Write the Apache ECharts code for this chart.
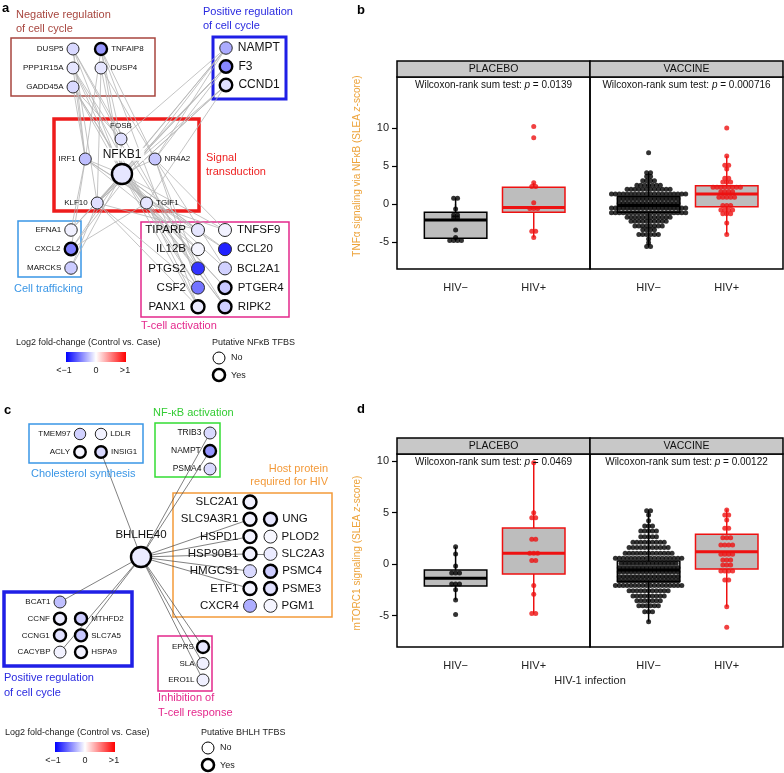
<!DOCTYPE html>
<html><head><meta charset="utf-8">
<script src="https://cdn.jsdelivr.net/npm/echarts@6/dist/echarts.min.js"></script>
<style>html,body{margin:0;padding:0;background:#fff}#c{width:784px;height:773px}</style>
</head><body><div id="c"></div>
<script>
const FONT = '"Liberation Sans", Arial, Helvetica, sans-serif';

// ===================== Box-plot panels (b, d) data =====================
const infectionGroups = ['HIV−', 'HIV+'];
const facetNames = ['PLACEBO', 'VACCINE'];
const yTicks = [-5, 0, 5, 10];
const pValuesB = ['0.0139', '0.000716'];
const pValuesD = ['0.0469', '0.00122'];
const yTitleB = 'TNFα signaling via NFκB (SLEA {i|z}-score)';
const yTitleD = 'mTORC1 signaling (SLEA {i|z}-score)';
const xTitleD = 'HIV-1 infection';

// box stats: [lower whisker, q1, median, q3, upper whisker]
const boxB_placeboNeg = [-4.8, -4.5, -2.1, -1.1, 0.75];
const boxB_placeboPos = [-4.4, -1.1, -0.45, 2.2, 2.8];
const boxB_vaccineNeg = [-5.6, -1.1, -0.2, 1.0, 4.1];
const boxB_vaccinePos = [-4.0, -0.35, 1.3, 2.4, 6.3];
const boxD_placeboNeg = [-3.5, -2.14, -1.39, -0.58, 1.68];
const boxD_placeboPos = [-4.8, -0.97, 1.04, 3.5, 9.83];
const boxD_vaccineNeg = [-5.6, -1.7, -0.58, 0.29, 5.2];
const boxD_vaccinePos = [-4.15, -0.49, 1.2, 2.88, 5.3];

// dot rows: [z-score, number of subjects at that level]
const dotsB_placeboNeg = [[0.75,2],[-0.66,1],[-1.45,2],[-1.8,2],[-3.42,1],[-4.4,1],[-4.8,4]];
const dotsB_placeboPos = [[10.2,1],[8.7,1],[2.8,1],[2.3,2],[0.17,1],[-0.6,3],[-3.6,2],[-4.4,1]];
const dotsB_vaccineNeg = [[6.75,1],[4.1,2],[3.6,2],[3.07,4],[2.45,7],[1.93,12],[1.3,20],[0.7,16],[0.09,16],[-0.53,20],[-1.14,20],[-1.75,12],[-2.28,10],[-2.9,8],[-3.4,4],[-4.0,6],[-4.6,1],[-5.1,1],[-5.6,2]];
const dotsB_vaccinePos = [[10.0,1],[6.3,1],[5.1,2],[4.6,1],[3.4,2],[2.9,3],[2.2,8],[1.6,4],[0.9,5],[-0.2,3],[-0.8,4],[-1.3,3],[-2.5,1],[-4.0,1]];
const dotsD_placeboNeg = [[1.68,1],[0.97,1],[-0.2,1],[-0.87,3],[-1.94,3],[-2.5,1],[-3.5,1],[-4.9,1]];
const dotsD_placeboPos = [[9.83,1],[4.98,1],[4.5,2],[2.4,2],[1.04,3],[0.35,2],[-2.1,1],[-2.95,1],[-4.8,2]];
const dotsD_vaccineNeg = [[5.18,2],[4.76,1],[4.2,1],[3.7,3],[3.2,5],[2.65,5],[2.1,9],[1.6,11],[1.04,13],[0.55,18],[0.07,15],[-0.36,16],[-0.75,16],[-1.23,16],[-1.65,16],[-2.1,18],[-2.6,11],[-3.1,9],[-3.56,7],[-4.05,6],[-4.63,3],[-5.6,1]];
const dotsD_vaccinePos = [[5.24,1],[4.76,2],[4.27,1],[3.46,2],[2.56,3],[1.84,4],[0.94,4],[0.39,3],[-0.1,3],[-0.68,4],[-1.55,2],[-4.15,1],[-6.15,1]];

// ===================== Network panels (a, c) data =====================
const netA_genes = ['DUSP5','TNFAIP8','PPP1R15A','DUSP4','GADD45A','NAMPT','F3','CCND1','FOSB','IRF1','NFKB1','NR4A2','KLF10','TGIF1','EFNA1','CXCL2','MARCKS','TIPARP','TNFSF9','IL12B','CCL20','PTGS2','BCL2A1','CSF2','PTGER4','PANX1','RIPK2'];
const netA_log2fc = [-0.15,-0.4,-0.1,-0.1,-0.15,-0.33,-0.47,-0.12,-0.12,-0.25,-0.1,-0.22,-0.12,-0.1,-0.06,-0.5,-0.2,-0.1,-0.05,-0.04,-0.87,-0.8,-0.18,-0.55,-0.22,-0.08,-0.18];
const netA_tfbs = [0,1,0,0,0,0,1,1,0,0,1,0,0,0,0,1,0,0,0,0,0,0,0,0,1,1,1];
const netA_edges = [
  ['NFKB1','DUSP5'],['NFKB1','TNFAIP8'],['NFKB1','PPP1R15A'],['NFKB1','DUSP4'],['NFKB1','GADD45A'],['NFKB1','NAMPT'],['NFKB1','F3'],['NFKB1','CCND1'],
  ['NFKB1','EFNA1'],['NFKB1','CXCL2'],['NFKB1','MARCKS'],['NFKB1','TIPARP'],['NFKB1','TNFSF9'],['NFKB1','IL12B'],['NFKB1','CCL20'],['NFKB1','PTGS2'],
  ['NFKB1','BCL2A1'],['NFKB1','CSF2'],['NFKB1','PTGER4'],['NFKB1','PANX1'],['NFKB1','RIPK2'],['NFKB1','FOSB'],['NFKB1','IRF1'],['NFKB1','NR4A2'],['NFKB1','KLF10'],['NFKB1','TGIF1'],
  ['IRF1','DUSP5'],['IRF1','PPP1R15A'],['IRF1','GADD45A'],['IRF1','TNFAIP8'],['IRF1','CXCL2'],['IRF1','EFNA1'],['IRF1','TIPARP'],['IRF1','IL12B'],['IRF1','CCL20'],
  ['NR4A2','NAMPT'],['NR4A2','F3'],['NR4A2','DUSP4'],['NR4A2','TNFAIP8'],['NR4A2','PTGS2'],['NR4A2','CSF2'],['NR4A2','TNFSF9'],['NR4A2','BCL2A1'],
  ['KLF10','DUSP5'],['KLF10','DUSP4'],['KLF10','NAMPT'],['KLF10','F3'],['KLF10','CCND1'],['KLF10','TIPARP'],['KLF10','CSF2'],['KLF10','PANX1'],['KLF10','MARCKS'],
  ['TGIF1','CCND1'],['TGIF1','GADD45A'],['TGIF1','PPP1R15A'],['TGIF1','TNFSF9'],['TGIF1','PANX1'],['TGIF1','RIPK2'],['TGIF1','PTGER4'],['TGIF1','CXCL2'],
  ['FOSB','DUSP5'],['FOSB','TNFAIP8'],['FOSB','NAMPT'],['FOSB','GADD45A'],
  ['DUSP5','PTGS2'],['GADD45A','CSF2'],['TNFAIP8','PANX1'],['NAMPT','CXCL2'],['F3','EFNA1'],['CCND1','KLF10'],['PPP1R15A','RIPK2']
];

const netC_genes = ['TMEM97','LDLR','ACLY','INSIG1','TRIB3','NAMPT','PSMA4','SLC2A1','SLC9A3R1','UNG','HSPD1','PLOD2','HSP90B1','SLC2A3','HMGCS1','PSMC4','ETF1','PSME3','CXCR4','PGM1','BHLHE40','BCAT1','CCNF','MTHFD2','CCNG1','SLC7A5','CACYBP','HSPA9','EPRS','SLA','ERO1L'];
const netC_log2fc = [-0.18,-0.05,-0.04,-0.15,-0.15,-0.42,-0.15,-0.05,-0.05,-0.1,-0.05,-0.03,-0.05,-0.08,-0.15,-0.2,-0.05,-0.12,-0.32,-0.04,-0.08,-0.25,-0.08,-0.2,-0.12,-0.22,-0.05,-0.05,-0.1,-0.06,-0.06];
const netC_tfbs = [0,0,1,1,0,1,0,1,1,1,1,0,1,0,0,1,1,1,0,0,1,0,1,1,1,1,0,1,1,0,0];
const netC_edges = [
  ['BHLHE40','INSIG1'],['BHLHE40','TRIB3'],['BHLHE40','NAMPT'],['BHLHE40','SLC9A3R1'],['BHLHE40','HSPD1'],['BHLHE40','HSP90B1'],['HSP90B1','SLC2A3'],
  ['BHLHE40','HMGCS1'],['BHLHE40','ETF1'],['BHLHE40','BCAT1'],['BHLHE40','SLC7A5'],['BHLHE40','CACYBP'],['BHLHE40','EPRS'],['BHLHE40','SLA'],['BHLHE40','ERO1L']
];

// ===================== Layout (positions / styles) =====================
const layoutA = [
  {origin:[73,49], step:[28,19], size:12, font:8, dist:3, cells:{DUSP5:[0,0,'left'], TNFAIP8:[1,0,'right'], PPP1R15A:[0,1,'left'], DUSP4:[1,1,'right'], GADD45A:[0,2,'left']}},
  {origin:[226,48], step:[0,18.5], size:12.5, font:12, dist:5, cells:{NAMPT:[0,0,'right'], F3:[0,1,'right'], CCND1:[0,2,'right']}},
  {origin:[121,139], step:[17,10], size:12, font:8, dist:3, cells:{FOSB:[0,0,'top'], IRF1:[-2.1,2,'left'], NR4A2:[2,2,'right'], KLF10:[-1.4,6.4,'left'], TGIF1:[1.5,6.4,'right']}},
  {origin:[122,174], step:[0,0], size:20, font:12, dist:2, bg:true, cells:{NFKB1:[0,0,'top']}},
  {origin:[71,230], step:[0,19], size:12.5, font:8, dist:3, cells:{EFNA1:[0,0,'left'], CXCL2:[0,1,'left'], MARCKS:[0,2,'left']}},
  {origin:[198,230], step:[27,19.2], size:13, font:11.5, dist:5, cells:{TIPARP:[0,0,'left'], TNFSF9:[1,0,'right'], IL12B:[0,1,'left'], CCL20:[1,1,'right'], PTGS2:[0,2,'left'], BCL2A1:[1,2,'right'], CSF2:[0,3,'left'], PTGER4:[1,3,'right'], PANX1:[0,4,'left'], RIPK2:[1,4,'right']}}
];
const layoutC = [
  {origin:[80,434], step:[21,18], size:11.5, font:8, dist:3, cells:{TMEM97:[0,0,'left'], LDLR:[1,0,'right'], ACLY:[0,1,'left'], INSIG1:[1,1,'right']}},
  {origin:[210,433], step:[0,18], size:12, font:8.5, dist:2, cells:{TRIB3:[0,0,'left'], NAMPT:[0,1,'left'], PSMA4:[0,2,'left']}},
  {origin:[250,502], step:[20.5,17.3], size:13, font:11.5, dist:4, cells:{SLC2A1:[0,0,'left'], SLC9A3R1:[0,1,'left'], UNG:[1,1,'right'], HSPD1:[0,2,'left'], PLOD2:[1,2,'right'], HSP90B1:[0,3,'left'], SLC2A3:[1,3,'right'], HMGCS1:[0,4,'left'], PSMC4:[1,4,'right'], ETF1:[0,5,'left'], PSME3:[1,5,'right'], CXCR4:[0,6,'left'], PGM1:[1,6,'right']}},
  {origin:[141,557], step:[0,0], size:20, font:11.5, dist:5, cells:{BHLHE40:[0,0,'top']}},
  {origin:[60,602], step:[21,16.7], size:12, font:8, dist:3, cells:{BCAT1:[0,0,'left'], CCNF:[0,1,'left'], MTHFD2:[1,1,'right'], CCNG1:[0,2,'left'], SLC7A5:[1,2,'right'], CACYBP:[0,3,'left'], HSPA9:[1,3,'right']}},
  {origin:[203,647], step:[0,16.5], size:12, font:8, dist:2, cells:{EPRS:[0,0,'left'], SLA:[0,1,'left'], ERO1L:[0,2,'left']}}
];

function fcColor(v){
  const t = Math.max(-1, Math.min(1, v));
  if (t < 0) { const k = Math.round(255*(1+t)); return 'rgb('+k+','+k+',255)'; }
  const k = Math.round(255*(1-t)); return 'rgb(255,'+k+','+k+')';
}

function buildNodes(genes, fc, tfbs, layout){
  const pos = {};
  layout.forEach(g => {
    Object.keys(g.cells).forEach(name => {
      const c = g.cells[name];
      pos[name] = {x:g.origin[0]+c[0]*g.step[0], y:g.origin[1]+c[1]*g.step[1], side:c[2], size:g.size, font:g.font, dist:g.dist, bg:g.bg};
    });
  });
  return genes.map((name, i) => {
    const p = pos[name];
    return {
      name: name, value:[p.x, p.y], symbolSize:p.size,
      itemStyle:{color:fcColor(fc[i]), borderColor: tfbs[i] ? '#000' : '#2a2a2a', borderWidth: tfbs[i] ? 2.4 : 1},
      label:{show:true, position:p.side, distance:p.dist, fontSize:p.font, fontFamily:FONT, color:'#111',
        backgroundColor: p.bg ? 'rgba(255,255,255,0.9)' : 'transparent', padding: p.bg ? [1,3,0,3] : 0}
    };
  });
}
function buildLinks(genes, edges){
  return edges.map(e => ({source:genes.indexOf(e[0]), target:genes.indexOf(e[1])}));
}

// ===================== helpers for box panels =====================
const DOT_STEP = 0.05;
function dotData(rows, center){
  const out = [];
  rows.forEach(r => {
    const n = r[1];
    for (let i = 0; i < n; i++) out.push([center + (i - (n-1)/2)*DOT_STEP, r[0]]);
  });
  return out;
}
function boxRender(params, api){
  const x = api.value(0);
  const col = x < 1.5 ? '#000' : '#ee1111';
  const lo = api.coord([x, api.value(1)]), q1 = api.coord([x, api.value(2)]), md = api.coord([x, api.value(3)]);
  const q3 = api.coord([x, api.value(4)]), hi = api.coord([x, api.value(5)]);
  const half = api.size([0.4, 0])[0];
  const cx = lo[0];
  return {type:'group', children:[
    {type:'line', shape:{x1:cx,y1:lo[1],x2:cx,y2:q1[1]}, style:{stroke:col, lineWidth:1.5}},
    {type:'line', shape:{x1:cx,y1:q3[1],x2:cx,y2:hi[1]}, style:{stroke:col, lineWidth:1.5}},
    {type:'rect', shape:{x:cx-half, y:q3[1], width:2*half, height:q1[1]-q3[1]}, style:{fill:'#bdbdbd', stroke:col, lineWidth:1.5}},
    {type:'line', shape:{x1:cx-half,y1:md[1],x2:cx+half,y2:md[1]}, style:{stroke:col, lineWidth:3}}
  ]};
}

const gridsBox = [
  {left:397, top:77, width:193, height:192, ymin:-8.55, ymax:16.7, boxes:[boxB_placeboNeg, boxB_placeboPos], dots:[dotsB_placeboNeg, dotsB_placeboPos], first:true},
  {left:590, top:77, width:193, height:192, ymin:-8.55, ymax:16.7, boxes:[boxB_vaccineNeg, boxB_vaccinePos], dots:[dotsB_vaccineNeg, dotsB_vaccinePos], first:false},
  {left:397, top:454, width:193, height:193, ymin:-8.06, ymax:10.68, boxes:[boxD_placeboNeg, boxD_placeboPos], dots:[dotsD_placeboNeg, dotsD_placeboPos], first:true},
  {left:590, top:454, width:193, height:193, ymin:-8.06, ymax:10.68, boxes:[boxD_vaccineNeg, boxD_vaccinePos], dots:[dotsD_vaccineNeg, dotsD_vaccinePos], first:false}
];

const grid = [], xAxis = [], yAxis = [], series = [];
gridsBox.forEach((g, i) => {
  grid.push({left:g.left, top:g.top, width:g.width, height:g.height, show:true, borderColor:'#000', borderWidth:1.5, backgroundColor:'transparent'});
  xAxis.push({gridIndex:i, type:'value', min:0.25, max:2.72, splitLine:{show:false}, axisLine:{show:false},
    axisTick:{show:true, customValues:[1,2], length:5, lineStyle:{color:'#000', width:1.2}},
    axisLabel:{show:true, customValues:[1,2], formatter:v => infectionGroups[Math.round(v)-1], fontSize:11, color:'#222', fontFamily:FONT, margin:13}});
  yAxis.push({gridIndex:i, type:'value', min:g.ymin, max:g.ymax, splitLine:{show:false}, axisLine:{show:false},
    axisTick:{show:g.first, customValues:yTicks, length:5, lineStyle:{color:'#000', width:1.2}},
    axisLabel:{show:g.first, customValues:yTicks, fontSize:11, color:'#222', fontFamily:FONT, margin:8}});
  series.push({type:'custom', xAxisIndex:i, yAxisIndex:i, z:2, silent:true, renderItem:boxRender,
    data:[[1].concat(g.boxes[0]), [2].concat(g.boxes[1])]});
  series.push({type:'scatter', xAxisIndex:i, yAxisIndex:i, z:3, silent:true, symbolSize:5, itemStyle:{color:'#000'}, data:dotData(g.dots[0], 1)});
  series.push({type:'scatter', xAxisIndex:i, yAxisIndex:i, z:3, silent:true, symbolSize:5, itemStyle:{color:'#ee1111'}, data:dotData(g.dots[1], 2)});
});
// hidden canvas-sized grid for the networks
grid.push({left:0, top:0, width:784, height:773, show:false});
xAxis.push({gridIndex:4, type:'value', min:0, max:784, show:false});
yAxis.push({gridIndex:4, type:'value', min:0, max:773, inverse:true, show:false});

series.push({type:'graph', coordinateSystem:'cartesian2d', xAxisIndex:4, yAxisIndex:4, layout:'none', silent:true, z:5,
  data:buildNodes(netA_genes, netA_log2fc, netA_tfbs, layoutA), links:buildLinks(netA_genes, netA_edges),
  lineStyle:{color:'#b5b5b5', width:0.8, opacity:1, curveness:0}, emphasis:{disabled:true}});
series.push({type:'graph', coordinateSystem:'cartesian2d', xAxisIndex:4, yAxisIndex:4, layout:'none', silent:true, z:5,
  data:buildNodes(netC_genes, netC_log2fc, netC_tfbs, layoutC), links:buildLinks(netC_genes, netC_edges),
  lineStyle:{color:'#4a4a4a', width:0.7, opacity:1, curveness:0}, emphasis:{disabled:true}});

// ===================== graphic decorations =====================
function txt(x, y, s, size, color, o){
  o = o || {};
  const st = {x:x, y:y, text:s, font:(o.italic?'italic ':'')+(o.bold?'bold ':'')+size+'px '+FONT, fill:color,
    textAlign:o.align||'left', align:o.align||'left', textVerticalAlign:'middle', verticalAlign:'middle'};
  if (o.rich) st.rich = o.rich;
  const el = {type:'text', silent:true, z:20, style:st};
  if (o.rotation) { el.x = x; el.y = y; st.x = 0; st.y = 0; el.rotation = o.rotation; }
  return el;
}
function box(x, y, w, h, color, lw){
  return {type:'rect', silent:true, z:1, shape:{x:x, y:y, width:w, height:h}, style:{fill:'none', stroke:color, lineWidth:lw}};
}
const grad = () => new echarts.graphic.LinearGradient(0,0,1,0,[{offset:0,color:'#0000ff'},{offset:0.5,color:'#ffffff'},{offset:1,color:'#ff0000'}]);
function legendBlock(x0, y0, tfbsTitle, barX, circX){
  return [
    txt(x0, y0, 'Log2 fold-change (Control vs. Case)', 9, '#222'),
    {type:'rect', silent:true, z:20, shape:{x:barX, y:y0+9, width:60, height:10}, style:{fill:grad()}},
    txt(barX-2, y0+28, '<−1', 9, '#222', {align:'center'}),
    txt(barX+30, y0+28, '0', 9, '#222', {align:'center'}),
    txt(barX+59, y0+28, '>1', 9, '#222', {align:'center'}),
    txt(circX-7, y0, tfbsTitle, 9, '#222'),
    {type:'circle', silent:true, z:20, shape:{cx:circX, cy:y0+15, r:6}, style:{fill:'#fff', stroke:'#000', lineWidth:1}},
    {type:'circle', silent:true, z:20, shape:{cx:circX, cy:y0+32, r:6}, style:{fill:'#fff', stroke:'#000', lineWidth:2.6}},
    txt(circX+12, y0+15, 'No', 9, '#222'),
    txt(circX+12, y0+33, 'Yes', 9, '#222')
  ];
}
const richI = {i:{fontStyle:'italic', fontSize:10, fontFamily:FONT, fill:'#111', color:'#111'}};
const richZ = {i:{fontStyle:'italic', fontSize:10, fontFamily:FONT, fill:'#eda33a', color:'#eda33a'}};

const graphics = [
  // panel letters
  txt(2, 8, 'a', 13, '#000', {bold:true}),
  txt(357, 10, 'b', 13, '#000', {bold:true}),
  txt(4, 410, 'c', 13, '#000', {bold:true}),
  txt(357, 409, 'd', 13, '#000', {bold:true}),
  // panel a group frames and titles
  box(11, 38, 144, 58, '#a8463f', 1.5),
  txt(16, 15, 'Negative regulation', 11, '#a8463f'), txt(16, 29, 'of cell cycle', 11, '#a8463f'),
  box(213, 37, 73, 62, '#1f1fe6', 3),
  txt(203, 12, 'Positive regulation', 11, '#2a2ae0'), txt(203, 26, 'of cell cycle', 11, '#2a2ae0'),
  box(54, 119, 145, 92, '#ee1c1c', 3.5),
  txt(206, 158, 'Signal', 11, '#ee2222'), txt(206, 172, 'transduction', 11, '#ee2222'),
  box(18, 221, 63, 56, '#3a96e6', 1.5),
  txt(14, 289, 'Cell trafficking', 11, '#3a96e6'),
  box(141, 222, 148, 95, '#e4288c', 1.5),
  txt(141, 326, 'T-cell activation', 11, '#e4288c'),
  // panel c group frames and titles
  box(29, 424, 114, 39, '#3a96e6', 1.5),
  txt(31, 474, 'Cholesterol synthesis', 11, '#3a96e6'),
  box(155, 423, 65, 54, '#33dd33', 1.5),
  txt(153, 413, 'NF-κB activation', 11, '#33cc33'),
  box(173, 493, 159, 124, '#f39a3a', 1.5),
  txt(328, 469, 'Host protein', 11, '#f39a3a', {align:'right'}), txt(328, 482, 'required for HIV', 11, '#f39a3a', {align:'right'}),
  box(4, 592, 128, 74, '#1f1fe6', 3.5),
  txt(4, 678, 'Positive regulation', 11, '#2a2ae0'), txt(4, 693, 'of cell cycle', 11, '#2a2ae0'),
  box(158, 636, 54, 55, '#e4288c', 1.5),
  txt(158, 698, 'Inhibition of', 11, '#e4288c'), txt(158, 713, 'T-cell response', 11, '#e4288c')
].concat(legendBlock(16, 343, 'Putative NFκB TFBS', 66, 219))
 .concat(legendBlock(5, 733, 'Putative BHLH TFBS', 55, 208));

// strips + p-value texts
[[61, pValuesB, 85], [438, pValuesD, 462]].forEach(s => {
  facetNames.forEach((nm, j) => {
    const x = 397 + j*193;
    graphics.push({type:'rect', silent:true, z:20, shape:{x:x, y:s[0], width:193, height:16}, style:{fill:'#c8c8c8', stroke:'#000', lineWidth:1.5}});
    graphics.push(txt(x+96.5, s[0]+8.5, nm, 10.5, '#111', {align:'center'}));
    graphics.push(txt(x+96.5, s[2], 'Wilcoxon-rank sum test: {i|p} = ' + s[1][j], 10, '#111', {align:'center', rich:richI}));
  });
});
graphics.push(txt(357, 166, yTitleB, 10, '#eda33a', {align:'center', rotation:Math.PI/2, rich:richZ}));
graphics.push(txt(357, 553, yTitleD, 10, '#eda33a', {align:'center', rotation:Math.PI/2, rich:richZ}));
graphics.push(txt(590, 681, xTitleD, 11, '#222', {align:'center'}));

const chart = echarts.init(document.getElementById('c'), null, {renderer:'canvas'});
chart.setOption({animation:false, backgroundColor:'#fff', grid:grid, xAxis:xAxis, yAxis:yAxis, series:series, graphic:{elements:graphics}});
</script></body></html>
